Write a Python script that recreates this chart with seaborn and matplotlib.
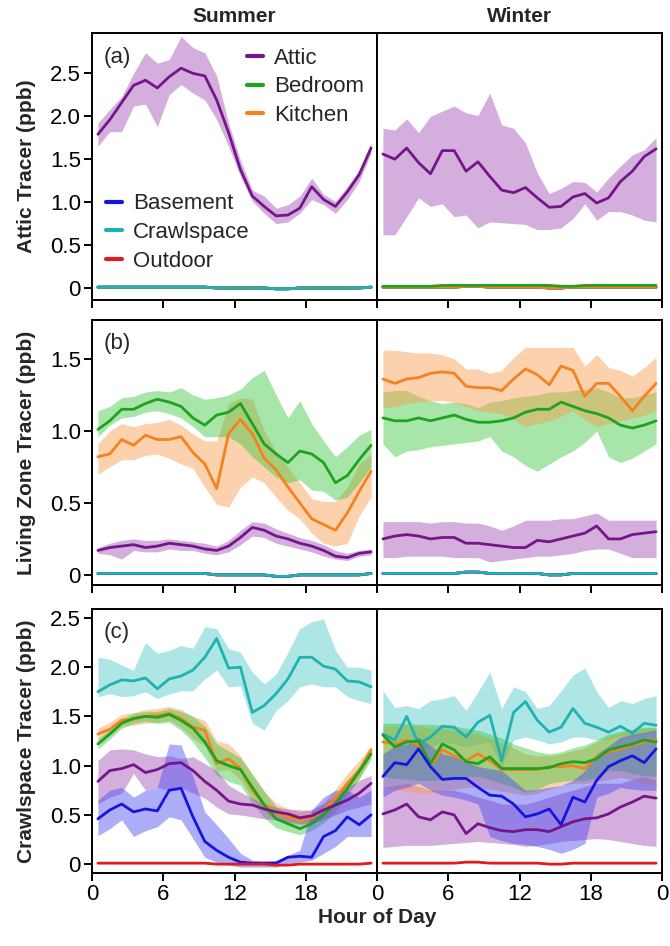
import numpy as np
import pandas as pd
import matplotlib
matplotlib.use("Agg")
import matplotlib.pyplot as plt
from matplotlib.ticker import FuncFormatter
from matplotlib.lines import Line2D
import seaborn as sns

hours = [0.5, 1.5, 2.5, 3.5, 4.5, 5.5, 6.5, 7.5, 8.5, 9.5, 10.5, 11.5,
         12.5, 13.5, 14.5, 15.5, 16.5, 17.5, 18.5, 19.5, 20.5, 21.5, 22.5, 23.5]

# near-zero traces
near0_summer = [0.01, 0.01, 0.01, 0.01, 0.01, 0.01, 0.01, 0.01, 0.01, 0.01, 0.0, 0.0,
                0.0, 0.0, 0.0, -0.01, -0.01, 0.0, 0.0, 0.0, 0.0, 0.0, 0.0, 0.01]
near0_winter = [0.01, 0.01, 0.01, 0.01, 0.01, 0.01, 0.01, 0.02, 0.02, 0.01, 0.01, 0.01,
                0.01, 0.01, 0.0, 0.0, 0.01, 0.01, 0.01, 0.01, 0.01, 0.01, 0.01, 0.01]
bedroom_a_winter = [0.02, 0.02, 0.02, 0.02, 0.02, 0.03, 0.03, 0.03, 0.03, 0.03, 0.03, 0.03,
                    0.03, 0.03, 0.03, 0.02, 0.02, 0.03, 0.03, 0.03, 0.03, 0.03, 0.03, 0.03]

# ---- panel (a): attic tracer
a_s_attic = [1.79, 1.96, 2.16, 2.36, 2.42, 2.33, 2.46, 2.56, 2.50, 2.47, 2.19, 1.81,
             1.38, 1.07, 0.95, 0.84, 0.85, 0.93, 1.18, 1.03, 0.95, 1.12, 1.32, 1.63]
a_s_attic_hi = [1.92, 2.08, 2.23, 2.50, 2.74, 2.62, 2.66, 2.93, 2.80, 2.74, 2.47, 1.92,
                1.49, 1.14, 1.07, 0.93, 0.97, 1.07, 1.28, 1.09, 1.01, 1.18, 1.38, 1.69]
a_s_attic_lo = [1.65, 1.82, 1.82, 2.12, 2.14, 1.88, 2.25, 2.37, 2.27, 2.19, 1.96, 1.65,
                1.30, 1.01, 0.87, 0.75, 0.77, 0.87, 1.03, 0.97, 0.87, 1.03, 1.24, 1.57]
a_w_attic = [1.56, 1.50, 1.63, 1.46, 1.33, 1.60, 1.60, 1.36, 1.47, 1.30, 1.14, 1.11,
             1.17, 1.05, 0.94, 0.95, 1.06, 1.10, 0.99, 1.05, 1.24, 1.36, 1.53, 1.62]
a_w_attic_hi = [1.86, 1.84, 1.97, 1.81, 2.00, 2.06, 2.12, 2.04, 2.01, 2.27, 1.90, 1.86,
                1.69, 1.34, 1.10, 1.16, 1.24, 1.23, 1.12, 1.28, 1.42, 1.55, 1.61, 1.75]
a_w_attic_lo = [0.62, 0.62, 0.83, 1.05, 0.95, 0.98, 0.83, 0.85, 0.70, 0.77, 0.76, 0.75,
                0.74, 0.68, 0.68, 0.70, 0.81, 0.98, 0.79, 0.89, 0.89, 0.85, 0.79, 0.77]

# ---- panel (b): living zone tracer
b_s_bed = [1.01, 1.07, 1.15, 1.15, 1.19, 1.22, 1.20, 1.17, 1.09, 1.04, 1.11, 1.13,
           1.19, 1.05, 0.91, 0.84, 0.78, 0.86, 0.84, 0.78, 0.64, 0.69, 0.80, 0.90]
b_s_bed_hi = [1.14, 1.17, 1.23, 1.24, 1.27, 1.28, 1.27, 1.30, 1.25, 1.22, 1.23, 1.25,
              1.29, 1.37, 1.42, 1.25, 1.09, 1.21, 1.05, 0.93, 0.82, 0.89, 0.97, 1.01]
b_s_bed_lo = [0.96, 1.04, 1.09, 1.10, 1.13, 1.14, 1.12, 1.09, 1.03, 0.96, 0.96, 0.96,
              0.91, 0.82, 0.75, 0.68, 0.64, 0.66, 0.59, 0.58, 0.52, 0.54, 0.64, 0.75]
b_s_kit = [0.82, 0.84, 0.94, 0.90, 0.97, 0.94, 0.94, 0.96, 0.85, 0.77, 0.60, 0.98,
           1.08, 0.98, 0.81, 0.73, 0.61, 0.50, 0.39, 0.35, 0.31, 0.43, 0.58, 0.72]
b_s_kit_hi = [0.91, 1.00, 1.05, 1.03, 1.05, 1.06, 1.08, 1.04, 0.98, 0.93, 0.93, 1.19,
              1.23, 1.22, 1.00, 0.86, 0.75, 0.64, 0.53, 0.51, 0.51, 0.61, 0.77, 0.84]
b_s_kit_lo = [0.70, 0.75, 0.80, 0.80, 0.83, 0.84, 0.81, 0.77, 0.74, 0.61, 0.49, 0.47,
              0.61, 0.68, 0.64, 0.54, 0.45, 0.39, 0.29, 0.22, 0.20, 0.22, 0.41, 0.54]
b_s_attic = [0.17, 0.19, 0.20, 0.21, 0.19, 0.20, 0.22, 0.21, 0.20, 0.18, 0.17, 0.20,
             0.26, 0.33, 0.31, 0.27, 0.25, 0.22, 0.20, 0.17, 0.13, 0.12, 0.15, 0.16]
b_s_attic_hi = [0.19, 0.22, 0.24, 0.25, 0.24, 0.24, 0.25, 0.24, 0.23, 0.22, 0.20, 0.24,
                0.31, 0.37, 0.36, 0.32, 0.29, 0.26, 0.24, 0.21, 0.17, 0.15, 0.17, 0.18]
b_s_attic_lo = [0.15, 0.14, 0.11, 0.17, 0.16, 0.16, 0.18, 0.17, 0.17, 0.15, 0.14, 0.16,
                0.21, 0.27, 0.26, 0.22, 0.20, 0.18, 0.16, 0.13, 0.11, 0.10, 0.13, 0.14]

b_w_kit = [1.36, 1.33, 1.36, 1.37, 1.40, 1.41, 1.40, 1.31, 1.30, 1.30, 1.28, 1.36,
           1.43, 1.39, 1.32, 1.45, 1.42, 1.24, 1.33, 1.33, 1.24, 1.14, 1.24, 1.33]
b_w_kit_hi = [1.56, 1.56, 1.55, 1.54, 1.54, 1.53, 1.50, 1.43, 1.43, 1.40, 1.42, 1.51,
              1.58, 1.58, 1.58, 1.58, 1.58, 1.45, 1.53, 1.44, 1.42, 1.38, 1.44, 1.51]
b_w_kit_lo = [1.16, 1.17, 1.19, 1.20, 1.21, 1.21, 1.20, 1.17, 1.14, 1.13, 1.12, 1.08,
              1.03, 1.05, 1.07, 1.10, 1.14, 1.08, 1.03, 1.05, 1.07, 1.09, 1.11, 1.14]
b_w_bed = [1.09, 1.07, 1.07, 1.09, 1.07, 1.09, 1.11, 1.08, 1.06, 1.06, 1.07, 1.09,
           1.13, 1.15, 1.15, 1.20, 1.17, 1.14, 1.12, 1.09, 1.04, 1.02, 1.04, 1.07]
b_w_bed_hi = [1.27, 1.28, 1.28, 1.24, 1.21, 1.19, 1.20, 1.19, 1.16, 1.20, 1.21, 1.23,
              1.24, 1.25, 1.27, 1.27, 1.28, 1.29, 1.30, 1.27, 1.23, 1.23, 1.25, 1.27]
b_w_bed_lo = [0.91, 0.82, 0.86, 0.87, 0.89, 0.90, 0.91, 0.92, 0.93, 0.96, 0.86, 0.82,
              0.76, 0.72, 0.77, 0.82, 0.86, 0.92, 1.00, 0.82, 0.78, 0.81, 0.86, 0.91]
b_w_attic = [0.25, 0.27, 0.28, 0.27, 0.25, 0.26, 0.26, 0.22, 0.22, 0.21, 0.20, 0.19,
             0.19, 0.24, 0.23, 0.25, 0.27, 0.29, 0.34, 0.25, 0.25, 0.28, 0.29, 0.30]
b_w_attic_hi = [0.37, 0.37, 0.37, 0.37, 0.36, 0.37, 0.37, 0.36, 0.36, 0.34, 0.31, 0.34,
                0.38, 0.38, 0.38, 0.39, 0.39, 0.41, 0.43, 0.38, 0.38, 0.38, 0.38, 0.38]
b_w_attic_lo = [0.12, 0.12, 0.13, 0.13, 0.13, 0.13, 0.12, 0.12, 0.12, 0.09, 0.10, 0.11,
                0.12, 0.13, 0.13, 0.14, 0.15, 0.17, 0.18, 0.18, 0.15, 0.12, 0.12, 0.12]

# ---- panel (c): crawlspace tracer
c_s_crawl = [1.75, 1.82, 1.87, 1.86, 1.89, 1.78, 1.88, 1.91, 1.97, 2.10, 2.29, 1.99,
             2.00, 1.54, 1.61, 1.73, 1.88, 2.10, 2.10, 2.01, 1.98, 1.86, 1.85, 1.80]
c_s_crawl_hi = [2.10, 2.08, 2.02, 1.97, 2.25, 2.14, 2.17, 2.22, 2.19, 2.41, 2.39, 2.19,
                2.15, 1.95, 1.83, 1.93, 2.15, 2.39, 2.46, 2.49, 2.17, 2.00, 2.00, 1.97]
c_s_crawl_lo = [1.70, 1.73, 1.70, 1.71, 1.75, 1.68, 1.73, 1.76, 1.76, 1.88, 1.97, 1.80,
                1.81, 1.43, 1.36, 1.56, 1.66, 1.80, 1.83, 1.80, 1.80, 1.70, 1.66, 1.63]
c_s_kit = [1.32, 1.37, 1.46, 1.47, 1.50, 1.51, 1.53, 1.48, 1.39, 1.36, 1.02, 1.07,
           0.97, 0.75, 0.61, 0.52, 0.48, 0.45, 0.47, 0.55, 0.67, 0.82, 0.95, 1.16]
c_s_kit_hi = [1.38, 1.44, 1.52, 1.54, 1.57, 1.58, 1.60, 1.57, 1.50, 1.46, 1.25, 1.22,
              1.10, 0.90, 0.74, 0.62, 0.56, 0.53, 0.55, 0.63, 0.76, 0.92, 1.05, 1.20]
c_s_kit_lo = [1.26, 1.31, 1.40, 1.41, 1.43, 1.44, 1.46, 1.39, 1.28, 1.20, 0.95, 0.96,
              0.86, 0.66, 0.53, 0.45, 0.42, 0.40, 0.42, 0.48, 0.59, 0.73, 0.86, 1.10]
c_s_bed = [1.22, 1.32, 1.43, 1.48, 1.50, 1.49, 1.52, 1.46, 1.38, 1.24, 1.05, 1.00,
           0.96, 0.78, 0.60, 0.46, 0.41, 0.36, 0.41, 0.50, 0.61, 0.77, 0.94, 1.12]
c_s_bed_hi = [1.27, 1.37, 1.48, 1.53, 1.55, 1.55, 1.58, 1.55, 1.50, 1.40, 1.22, 1.15,
              1.08, 0.92, 0.74, 0.58, 0.50, 0.44, 0.48, 0.57, 0.68, 0.84, 1.00, 1.17]
c_s_bed_lo = [1.17, 1.27, 1.38, 1.43, 1.45, 1.43, 1.44, 1.36, 1.24, 1.08, 0.90, 0.84,
              0.80, 0.62, 0.47, 0.37, 0.33, 0.30, 0.34, 0.42, 0.53, 0.69, 0.87, 1.06]
c_s_attic = [0.84, 0.95, 0.97, 1.01, 0.93, 0.96, 1.02, 1.03, 0.95, 0.84, 0.75, 0.64,
             0.61, 0.60, 0.56, 0.53, 0.51, 0.47, 0.49, 0.55, 0.60, 0.65, 0.72, 0.82]
c_s_attic_hi = [1.05, 1.16, 1.17, 1.16, 1.12, 1.09, 1.10, 1.07, 1.09, 1.02, 0.95, 0.80,
                0.73, 0.67, 0.61, 0.58, 0.56, 0.55, 0.55, 0.61, 0.70, 0.78, 0.85, 0.90]
c_s_attic_lo = [0.61, 0.68, 0.72, 0.92, 0.75, 0.78, 0.75, 0.78, 0.72, 0.67, 0.58, 0.51,
                0.50, 0.48, 0.46, 0.45, 0.43, 0.41, 0.41, 0.45, 0.50, 0.55, 0.58, 0.61]
c_s_base = [0.46, 0.55, 0.61, 0.53, 0.56, 0.54, 0.75, 0.77, 0.48, 0.23, 0.14, 0.07,
            0.02, 0.01, 0.01, 0.01, 0.07, 0.08, 0.07, 0.28, 0.34, 0.48, 0.40, 0.50]
c_s_base_hi = [0.65, 0.75, 0.78, 0.68, 0.75, 0.78, 1.22, 1.21, 0.89, 0.53, 0.40, 0.26,
               0.11, 0.04, 0.03, 0.04, 0.09, 0.14, 0.55, 0.68, 0.75, 0.75, 0.68, 0.75]
c_s_base_lo = [0.29, 0.36, 0.45, 0.28, 0.34, 0.38, 0.48, 0.45, 0.26, 0.07, 0.02, -0.01,
               -0.03, -0.03, -0.03, -0.03, 0.01, 0.02, 0.04, 0.11, 0.18, 0.28, 0.28, 0.28]

c_w_crawl = [1.32, 1.26, 1.50, 1.22, 1.29, 1.40, 1.39, 1.29, 1.44, 1.51, 1.05, 1.54,
             1.65, 1.46, 1.34, 1.39, 1.58, 1.43, 1.39, 1.34, 1.40, 1.33, 1.43, 1.41]
c_w_crawl_hi = [1.76, 1.59, 1.61, 1.58, 1.66, 1.68, 1.71, 1.56, 1.75, 1.95, 1.58, 1.80,
                1.75, 1.58, 1.61, 1.76, 1.92, 1.99, 1.75, 1.59, 1.66, 1.63, 1.68, 1.71]
c_w_crawl_lo = [1.30, 1.20, 1.28, 1.15, 1.19, 1.24, 1.22, 1.19, 1.22, 1.24, 0.98, 1.26,
                1.29, 1.26, 1.22, 1.24, 1.29, 1.29, 1.26, 1.27, 1.31, 1.30, 1.33, 1.34]
c_w_bed = [1.31, 1.19, 1.24, 1.25, 1.02, 1.22, 1.16, 1.04, 1.02, 1.09, 0.97, 0.97,
           0.97, 0.97, 0.98, 1.02, 1.04, 1.03, 1.07, 1.16, 1.19, 1.22, 1.26, 1.24]
c_w_bed_hi = [1.43, 1.43, 1.43, 1.42, 1.42, 1.41, 1.40, 1.38, 1.36, 1.32, 1.28, 1.22,
              1.18, 1.14, 1.12, 1.14, 1.18, 1.21, 1.26, 1.32, 1.35, 1.37, 1.39, 1.39]
c_w_bed_lo = [0.89, 0.87, 0.86, 0.85, 0.85, 0.86, 0.88, 0.89, 0.89, 0.86, 0.82, 0.78,
              0.73, 0.76, 0.82, 0.84, 0.85, 0.85, 0.88, 0.95, 0.95, 0.92, 0.90, 0.89]
c_w_kit = [1.24, 1.22, 1.26, 1.21, 1.00, 1.16, 1.10, 1.05, 1.12, 1.05, 0.96, 0.96,
           0.96, 0.96, 0.99, 0.99, 1.00, 0.97, 1.09, 1.14, 1.17, 1.21, 1.24, 1.26]
c_w_kit_hi = [1.40, 1.40, 1.41, 1.40, 1.38, 1.37, 1.36, 1.34, 1.32, 1.28, 1.22, 1.18,
              1.12, 1.10, 1.10, 1.12, 1.15, 1.18, 1.24, 1.30, 1.33, 1.36, 1.38, 1.38]
c_w_kit_lo = [0.78, 0.75, 0.74, 0.72, 0.72, 0.74, 0.76, 0.78, 0.78, 0.76, 0.74, 0.72,
              0.70, 0.72, 0.76, 0.80, 0.82, 0.82, 0.84, 0.86, 0.88, 0.86, 0.82, 0.80]
c_w_base = [0.89, 1.03, 1.01, 1.17, 0.99, 0.86, 0.87, 0.87, 0.78, 0.70, 0.69, 0.61,
            0.48, 0.51, 0.56, 0.40, 0.68, 0.63, 0.85, 0.99, 1.05, 1.10, 1.03, 1.17]
c_w_base_hi = [1.12, 1.20, 1.22, 1.29, 1.20, 1.12, 1.09, 1.04, 0.99, 0.97, 0.95, 0.85,
               0.75, 0.76, 0.78, 0.80, 0.85, 0.95, 1.12, 1.20, 1.29, 1.32, 1.34, 1.36]
c_w_base_lo = [0.68, 0.75, 0.78, 0.82, 0.75, 0.70, 0.68, 0.65, 0.61, 0.28, 0.24, 0.21,
               0.20, 0.18, 0.15, 0.11, 0.15, 0.21, 0.68, 0.72, 0.78, 0.76, 0.75, 0.75]
c_w_attic = [0.51, 0.55, 0.61, 0.48, 0.45, 0.53, 0.50, 0.31, 0.41, 0.37, 0.34, 0.33,
             0.35, 0.35, 0.33, 0.38, 0.43, 0.46, 0.47, 0.51, 0.58, 0.63, 0.69, 0.67]
c_w_attic_hi = [0.78, 0.80, 0.82, 0.79, 0.75, 0.75, 0.75, 0.72, 0.68, 0.65, 0.61, 0.61,
                0.61, 0.64, 0.68, 0.72, 0.75, 0.79, 0.82, 0.82, 0.82, 0.86, 0.89, 0.85]
c_w_attic_lo = [0.17, 0.18, 0.19, 0.19, 0.19, 0.20, 0.21, 0.22, 0.23, 0.22, 0.21, 0.20,
                0.18, 0.19, 0.21, 0.23, 0.24, 0.25, 0.26, 0.25, 0.23, 0.21, 0.19, 0.18]

colors = {
    "Attic": "#74168a",
    "Bedroom": "#1fa31f",
    "Kitchen": "#f5821f",
    "Basement": "#1515e0",
    "Crawlspace": "#20b2b2",
    "Outdoor": "#e31a1a",
}
band_colors = {
    "Attic": "#a04fb5",
    "Bedroom": "#3fc63f",
    "Kitchen": "#f99a4a",
    "Basement": "#4a4af0",
    "Crawlspace": "#4cc8c8",
    "Outdoor": "#e31a1a",
}

# (series name, mean, lo, hi) in drawing order
panels = [
    {
        "ylabel": "Attic Tracer (ppb)", "tag": "(a)", "ylim": (-0.14, 2.97),
        "ticks": [0, 0.5, 1.0, 1.5, 2.0, 2.5],
        "Summer": [("Outdoor", near0_summer, None, None),
                   ("Basement", near0_summer, None, None),
                   ("Kitchen", near0_summer, None, None),
                   ("Bedroom", near0_summer, None, None),
                   ("Crawlspace", near0_summer, None, None),
                   ("Attic", a_s_attic, a_s_attic_lo, a_s_attic_hi)],
        "Winter": [("Outdoor", near0_winter, None, None),
                   ("Basement", near0_winter, None, None),
                   ("Crawlspace", near0_winter, None, None),
                   ("Kitchen", near0_winter, None, None),
                   ("Bedroom", bedroom_a_winter, None, None),
                   ("Attic", a_w_attic, a_w_attic_lo, a_w_attic_hi)],
    },
    {
        "ylabel": "Living Zone Tracer (ppb)", "tag": "(b)", "ylim": (-0.07, 1.77),
        "ticks": [0, 0.5, 1.0, 1.5],
        "Summer": [("Outdoor", near0_summer, None, None),
                   ("Basement", near0_summer, None, None),
                   ("Crawlspace", near0_summer, None, None),
                   ("Attic", b_s_attic, b_s_attic_lo, b_s_attic_hi),
                   ("Kitchen", b_s_kit, b_s_kit_lo, b_s_kit_hi),
                   ("Bedroom", b_s_bed, b_s_bed_lo, b_s_bed_hi)],
        "Winter": [("Outdoor", near0_winter, None, None),
                   ("Basement", near0_winter, None, None),
                   ("Crawlspace", near0_winter, None, None),
                   ("Attic", b_w_attic, b_w_attic_lo, b_w_attic_hi),
                   ("Bedroom", b_w_bed, b_w_bed_lo, b_w_bed_hi),
                   ("Kitchen", b_w_kit, b_w_kit_lo, b_w_kit_hi)],
    },
    {
        "ylabel": "Crawlspace Tracer (ppb)", "tag": "(c)", "ylim": (-0.09, 2.59),
        "ticks": [0, 0.5, 1.0, 1.5, 2.0, 2.5],
        "Summer": [("Crawlspace", c_s_crawl, c_s_crawl_lo, c_s_crawl_hi),
                   ("Kitchen", c_s_kit, c_s_kit_lo, c_s_kit_hi),
                   ("Bedroom", c_s_bed, c_s_bed_lo, c_s_bed_hi),
                   ("Attic", c_s_attic, c_s_attic_lo, c_s_attic_hi),
                   ("Basement", c_s_base, c_s_base_lo, c_s_base_hi),
                   ("Outdoor", near0_summer, None, None)],
        "Winter": [("Crawlspace", c_w_crawl, c_w_crawl_lo, c_w_crawl_hi),
                   ("Attic", c_w_attic, c_w_attic_lo, c_w_attic_hi),
                   ("Kitchen", c_w_kit, c_w_kit_lo, c_w_kit_hi),
                   ("Bedroom", c_w_bed, c_w_bed_lo, c_w_bed_hi),
                   ("Basement", c_w_base, c_w_base_lo, c_w_base_hi),
                   ("Outdoor", near0_winter, None, None)],
    },
]

sns.set_style("ticks")
plt.rcParams["font.family"] = ["Liberation Sans", "DejaVu Sans"]

W, H = 670, 946
fig = plt.figure(figsize=(W / 100, H / 100), dpi=100)

col_x = [92, 377]
col_w = 285
rows = [(33, 300), (320, 585), (609, 873)]

fmt = FuncFormatter(lambda v, p: "0" if abs(v) < 1e-9 else f"{v:.1f}")

for r, panel in enumerate(panels):
    top, bot = rows[r]
    for c, season in enumerate(["Summer", "Winter"]):
        ax = fig.add_axes([col_x[c] / W, 1 - bot / H, col_w / W, (bot - top) / H])
        for name, mean, lo, hi in panel[season]:
            if lo is not None:
                ax.fill_between(hours, lo, hi, color=band_colors[name], alpha=0.45,
                                linewidth=0)
            sns.lineplot(x=hours, y=mean, color=colors[name], linewidth=2.0, ax=ax,
                         legend=False)
        ax.set_xlim(0, 24)
        ax.set_ylim(*panel["ylim"])
        ax.set_xticks([0, 6, 12, 18, 24])
        ax.set_yticks(panel["ticks"])
        for sp in ax.spines.values():
            sp.set_linewidth(1.4)
            sp.set_color("black")
        ax.tick_params(axis="both", direction="out", length=6, width=1.4,
                       labelsize=16, colors="black", pad=2)
        if r == 2:
            if c == 0:
                ax.set_xticklabels(["0", "6", "12", "18", "0"])
            else:
                ax.set_xticklabels(["", "6", "12", "18", "0"])
        else:
            ax.set_xticklabels([])
        if c == 0:
            ax.yaxis.set_major_formatter(fmt)
            ax.set_ylabel(panel["ylabel"], fontsize=15, fontweight="bold", labelpad=10)
            ax.text(0.04, 0.91, panel["tag"], transform=ax.transAxes, fontsize=16,
                    va="center", ha="left")
        else:
            ax.tick_params(axis="y", left=False, labelleft=False)
        ax.set_xlabel("")

        if r == 0 and c == 0:
            h1 = [Line2D([], [], color=colors[n], linewidth=3) for n in
                  ["Attic", "Bedroom", "Kitchen"]]
            leg1 = ax.legend(h1, ["Attic", "Bedroom", "Kitchen"], loc="upper left",
                             bbox_to_anchor=(0.545, 0.945), frameon=False, fontsize=16,
                             handlelength=0.7, handletextpad=0.5, labelspacing=0.35,
                             borderpad=0, borderaxespad=0)
            ax.add_artist(leg1)
            h2 = [Line2D([], [], color=colors[n], linewidth=3) for n in
                  ["Basement", "Crawlspace", "Outdoor"]]
            ax.legend(h2, ["Basement", "Crawlspace", "Outdoor"], loc="lower left",
                      bbox_to_anchor=(0.05, 0.105), frameon=False, fontsize=16,
                      handlelength=0.7, handletextpad=0.5, labelspacing=0.35,
                      borderpad=0, borderaxespad=0)

for c, season in enumerate(["Summer", "Winter"]):
    fig.text((col_x[c] + col_w / 2) / W, 1 - 17 / H, season, fontsize=15,
             fontweight="bold", ha="center", va="center")
fig.text((92 + 285) / W, 1 - 917 / H, "Hour of Day", fontsize=15, fontweight="bold",
         ha="center", va="center")

fig.savefig("out.png", dpi=100)
